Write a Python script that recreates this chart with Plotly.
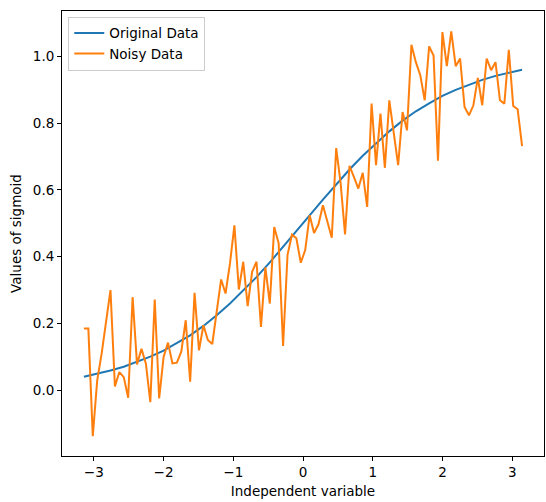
import numpy as np
import plotly.graph_objects as go

# independent variable grid: 100 evenly spaced points from -pi to pi
x_start, x_end, n_points = -np.pi, np.pi, 100
x_noisy = np.linspace(x_start, x_end, n_points)

# noisy data
noisy_values = [
    0.185, 0.185, -0.137, 0.03, 0.11, 0.20, 0.30, 0.012, 0.055, 0.04,
    -0.022, 0.279, 0.078, 0.125, 0.08, -0.035, 0.272, -0.024, 0.10, 0.143,
    0.081, 0.083, 0.116, 0.21, 0.026, 0.292, 0.12, 0.195, 0.151, 0.139,
    0.24, 0.332, 0.29, 0.38, 0.494, 0.302, 0.385, 0.252, 0.355, 0.385,
    0.19, 0.368, 0.26, 0.489, 0.44, 0.133, 0.405, 0.466, 0.455, 0.382,
    0.42, 0.524, 0.471, 0.497, 0.554, 0.509, 0.457, 0.725, 0.62, 0.467,
    0.672, 0.639, 0.604, 0.651, 0.549, 0.858, 0.674, 0.828, 0.666, 0.868,
    0.773, 0.674, 0.833, 0.778, 1.034, 0.982, 0.943, 0.868, 1.029, 1.002,
    0.687, 1.072, 0.97, 1.074, 0.97, 0.993, 0.848, 0.823, 0.853, 0.935,
    0.853, 0.993, 0.958, 0.982, 0.868, 0.858, 1.019, 0.851, 0.841, 0.731,
]

# original (smooth) curve, read at every third grid point
x_original = x_noisy[::3]
original_values = [
    0.041, 0.050, 0.060, 0.071, 0.085, 0.101, 0.119, 0.141, 0.165, 0.193,
    0.225, 0.260, 0.298, 0.339, 0.383, 0.429, 0.476, 0.524, 0.571, 0.617,
    0.661, 0.702, 0.740, 0.775, 0.807, 0.835, 0.859, 0.881, 0.899, 0.915,
    0.929, 0.941, 0.950, 0.959,
]

x_ticks = [-3, -2, -1, 0, 1, 2, 3]
y_ticks = [0.0, 0.2, 0.4, 0.6, 0.8, 1.0]

font = dict(family="DejaVu Sans", size=13.5, color="black")

fig = go.Figure()
fig.add_trace(go.Scatter(x=x_original, y=original_values, mode="lines",
                         name="Original Data",
                         line=dict(color="#1f77b4", width=2)))
fig.add_trace(go.Scatter(x=x_noisy, y=noisy_values, mode="lines",
                         name="Noisy Data",
                         line=dict(color="#ff7f0e", width=2)))

axis_style = dict(showline=True, linecolor="black", linewidth=1, mirror=True,
                  ticks="outside", ticklen=4, tickcolor="black",
                  showgrid=False, zeroline=False, tickfont=font)

fig.update_layout(
    width=546, height=502,
    margin=dict(l=62, r=2, t=11, b=46),
    paper_bgcolor="white", plot_bgcolor="white",
    font=font,
    xaxis=dict(range=[-3.456, 3.456], tickvals=x_ticks,
               title=dict(text="Independent variable", font=font, standoff=7),
               **axis_style),
    yaxis=dict(range=[-0.196, 1.135], tickvals=y_ticks, tickformat=".1f",
               title=dict(text="Values of sigmoid", font=font, standoff=8),
               **axis_style),
    legend=dict(x=0.013, y=0.987, xanchor="left", yanchor="top",
                bgcolor="white", bordercolor="#cccccc", borderwidth=1,
                font=font, tracegroupgap=0),
    showlegend=True,
)

# drop the browser's default page margin so the figure sits at (0, 0)
fig.write_html("out.html",
               config={"displayModeBar": False},
               post_script="document.body.style.margin='0';"
                           "document.body.style.overflow='hidden';")
